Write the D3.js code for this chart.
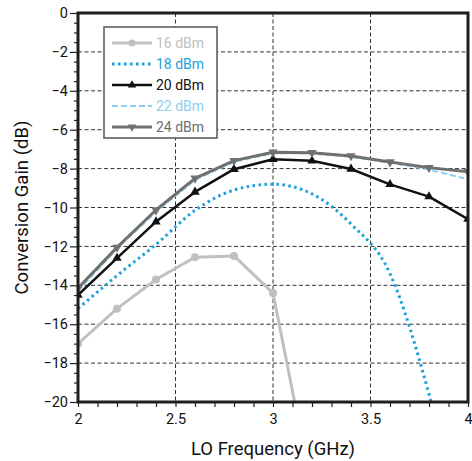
<!DOCTYPE html>
<html>
<head>
<meta charset="utf-8">
<script src="https://cdn.jsdelivr.net/npm/d3@7"></script>
<style>
  body { margin: 0; background: #fff; }
  text { font-family: Roboto, "DejaVu Sans", sans-serif; }
</style>
</head>
<body>
<svg id="chart" width="472" height="461"></svg>
<script>
// frequencies (GHz)
const freqs = [2.0, 2.2, 2.4, 2.6, 2.8, 3.0, 3.2, 3.4, 3.6, 3.8, 4.0];
const freqs16 = [2.0, 2.2, 2.4, 2.6, 2.8, 3.0, 3.2];

// conversion gain (dB) per LO drive
const gain16 = [-17.0, -15.2, -13.7, -12.56, -12.49, -14.4, -24.5];
const gain18 = [-15.2, -13.5, -11.9, -10.15, -9.1, -8.8, -9.3, -10.85, -13.4, -19.6, -28];
const gain20 = [-14.5, -12.6, -10.73, -9.2, -8.03, -7.52, -7.6, -8.02, -8.81, -9.44, -10.6];
const gain22 = [-14.28, -12.12, -10.22, -8.58, -7.65, -7.21, -7.22, -7.4, -7.7, -8.05, -8.55];
const gain24 = [-14.15, -12.05, -10.13, -8.5, -7.59, -7.16, -7.18, -7.35, -7.66, -7.95, -8.16];

const xTicks = [2, 2.5, 3, 3.5, 4];
const yTicks = [0, -2, -4, -6, -8, -10, -12, -14, -16, -18, -20];

const series = [
    {name: "16 dBm", x: freqs16, y: gain16, color: "#c0c0c0", width: 3, dash: null, marker: "circle", smooth: false},
    {name: "18 dBm", x: freqs, y: gain18, color: "#1a9fdc", width: 3, dash: "2.5,3.5", marker: null, smooth: true},
    {name: "20 dBm", x: freqs, y: gain20, color: "#111111", width: 2.5, dash: null, marker: "tri", smooth: false},
    {name: "22 dBm", x: freqs, y: gain22, color: "#8ccff2", width: 2, dash: "6,3", marker: null, smooth: false},
    {name: "24 dBm", x: freqs, y: gain24, color: "#707070", width: 3, dash: null, marker: "triDown", smooth: false}
];

const svg = d3.select("#chart");
const margin = {left: 78, right: 4, top: 13, bottom: 59};
const W = 472, H = 461;
const x = d3.scaleLinear().domain([2, 4]).range([margin.left, W - margin.right]);
const y = d3.scaleLinear().domain([-20, 0]).range([H - margin.bottom, margin.top]);

svg.append("defs").append("clipPath").attr("id", "plotclip")
    .append("rect")
    .attr("x", x(2)).attr("y", y(0))
    .attr("width", x(4) - x(2)).attr("height", y(-20) - y(0));

// grid
const grid = svg.append("g").attr("class", "grid");
grid.selectAll("line.h")
    .data(yTicks.filter(d => d > -20 && d < 0))
    .join("line")
    .attr("class", "h")
    .attr("x1", x(2)).attr("x2", x(4))
    .attr("y1", d => y(d)).attr("y2", d => y(d))
    .attr("stroke", "#333").attr("stroke-width", 1).attr("stroke-dasharray", "4,2.5");
grid.selectAll("line.v")
    .data(xTicks.filter(d => d > 2 && d < 4))
    .join("line")
    .attr("class", "v")
    .attr("y1", y(0)).attr("y2", y(-20))
    .attr("x1", d => x(d)).attr("x2", d => x(d))
    .attr("stroke", "#333").attr("stroke-width", 1).attr("stroke-dasharray", "4,2.5");

// axes
const xAxis = d3.axisBottom(x).tickValues(d3.range(2, 4.001, 0.1)).tickSize(5)
    .tickFormat(d => xTicks.some(t => Math.abs(t - d) < 1e-6) ? d3.format("~g")(d) : "");
const gx = svg.append("g").attr("transform", `translate(0,${y(-20)})`).call(xAxis);
gx.select(".domain").remove();
gx.selectAll(".tick line").attr("stroke", "#222").attr("stroke-width", 1.2);
gx.selectAll(".tick text").attr("font-size", 14.5).attr("fill", "#111").attr("dy", "0.95em");

const yAxis = d3.axisLeft(y).tickValues(d3.range(-20, 0.001, 0.5)).tickSize(3)
    .tickFormat(d => Number.isInteger(d) && d % 2 === 0 ? d3.format("~g")(d) : "");
const gy = svg.append("g").attr("transform", `translate(${x(2)},0)`).call(yAxis);
gy.select(".domain").remove();
gy.selectAll(".tick line").attr("stroke", "#222").attr("stroke-width", 1.2)
    .attr("x2", d => Number.isInteger(d) && d % 2 === 0 ? -8 : -4);
gy.selectAll(".tick text").attr("font-size", 14.5).attr("fill", "#111").attr("x", -10);

// series
const plot = svg.append("g").attr("clip-path", "url(#plotclip)");
series.forEach(s => {
    const pts = s.x.map((f, i) => [f, s.y[i]]);
    const line = d3.line().x(d => x(d[0])).y(d => y(d[1]))
        .curve(s.smooth ? d3.curveMonotoneX : d3.curveLinear);
    plot.append("path")
        .datum(pts)
        .attr("d", line)
        .attr("fill", "none")
        .attr("stroke", s.color)
        .attr("stroke-width", s.width)
        .attr("stroke-dasharray", s.dash)
        .attr("stroke-linejoin", "round");
    if (s.marker) {
        const sym = s.marker === "circle" ? d3.symbolCircle : d3.symbolTriangle;
        const size = s.marker === "circle" ? 50 : 38;
        plot.selectAll(null)
            .data(pts.filter(d => d[1] >= -20))
            .join("path")
            .attr("d", d3.symbol(sym, size))
            .attr("transform", d => `translate(${x(d[0])},${y(d[1])})` + (s.marker === "triDown" ? " rotate(180)" : ""))
            .attr("fill", s.color);
    }
});

// frame
svg.append("rect")
    .attr("x", x(2)).attr("y", y(0))
    .attr("width", x(4) - x(2)).attr("height", y(-20) - y(0))
    .attr("fill", "none").attr("stroke", "#1e1e1e").attr("stroke-width", 3);

// legend
const lg = svg.append("g");
lg.append("rect")
    .attr("x", 104).attr("y", 27).attr("width", 113).attr("height", 111)
    .attr("fill", "#fff").attr("stroke", "#555").attr("stroke-width", 1.5);
series.forEach((s, i) => {
    const cy = 43 + i * 21;
    lg.append("line")
        .attr("x1", 112).attr("x2", 152).attr("y1", cy).attr("y2", cy)
        .attr("stroke", s.color).attr("stroke-width", s.width)
        .attr("stroke-dasharray", s.dash);
    if (s.marker) {
        const sym = s.marker === "circle" ? d3.symbolCircle : d3.symbolTriangle;
        lg.append("path")
            .attr("d", d3.symbol(sym, s.marker === "circle" ? 40 : 30))
            .attr("transform", `translate(132,${cy})` + (s.marker === "triDown" ? " rotate(180)" : ""))
            .attr("fill", s.color);
    }
    lg.append("text")
        .attr("x", 156).attr("y", cy).attr("dy", "0.35em")
        .attr("font-size", 14).attr("fill", s.color)
        .text(s.name);
});

// axis titles
svg.append("text")
    .attr("x", (x(2) + x(4)) / 2).attr("y", 455)
    .attr("text-anchor", "middle").attr("font-size", 18.5).attr("fill", "#111")
    .text("LO Frequency (GHz)");
svg.append("text")
    .attr("transform", `translate(28,${(y(0) + y(-20)) / 2}) rotate(-90)`)
    .attr("text-anchor", "middle").attr("font-size", 18.5).attr("fill", "#111")
    .text("Conversion Gain (dB)");
</script>
</body>
</html>
